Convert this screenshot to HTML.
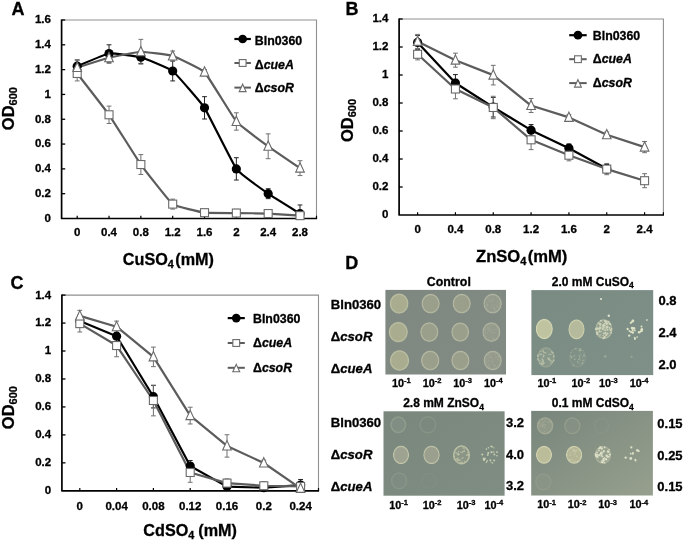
<!DOCTYPE html>
<html><head><meta charset="utf-8"><style>
html,body{margin:0;padding:0;background:#fff;width:685px;height:543px;overflow:hidden}
svg{display:block;font-family:"Liberation Sans", sans-serif}
text{font-family:"Liberation Sans", sans-serif;stroke:#000;stroke-width:0.3px}
</style></head><body>
<svg width="685" height="543" viewBox="0 0 685 543"><defs><filter id="bl" x="-5%" y="-5%" width="110%" height="110%"><feGaussianBlur stdDeviation="0.55"/></filter><linearGradient id="p1" x1="0" y1="0" x2="1" y2="1"><stop offset="0" stop-color="#7e8880"/><stop offset="1" stop-color="#838c84"/></linearGradient><radialGradient id="cg1"><stop offset="0" stop-color="#a9ac8f"/><stop offset="0.76" stop-color="#a9ac8f"/><stop offset="0.9" stop-color="#bbbfa2"/><stop offset="1" stop-color="#bbbfa2" stop-opacity="0.1"/></radialGradient><radialGradient id="cg2"><stop offset="0" stop-color="#9a9f8c"/><stop offset="0.76" stop-color="#9a9f8c"/><stop offset="0.9" stop-color="#b6baa2"/><stop offset="1" stop-color="#b6baa2" stop-opacity="0.1"/></radialGradient><radialGradient id="cg3"><stop offset="0" stop-color="#9a9f8c"/><stop offset="0.76" stop-color="#9a9f8c"/><stop offset="0.9" stop-color="#b6baa2"/><stop offset="1" stop-color="#b6baa2" stop-opacity="0.1"/></radialGradient><radialGradient id="cg4"><stop offset="0" stop-color="#959b8c"/><stop offset="0.76" stop-color="#959b8c"/><stop offset="0.9" stop-color="#b0b5a1"/><stop offset="1" stop-color="#b0b5a1" stop-opacity="0.1"/></radialGradient><radialGradient id="cg5"><stop offset="0" stop-color="#a9ac8f"/><stop offset="0.76" stop-color="#a9ac8f"/><stop offset="0.9" stop-color="#bbbfa2"/><stop offset="1" stop-color="#bbbfa2" stop-opacity="0.1"/></radialGradient><radialGradient id="cg6"><stop offset="0" stop-color="#9a9f8c"/><stop offset="0.76" stop-color="#9a9f8c"/><stop offset="0.9" stop-color="#b6baa2"/><stop offset="1" stop-color="#b6baa2" stop-opacity="0.1"/></radialGradient><radialGradient id="cg7"><stop offset="0" stop-color="#9a9f8c"/><stop offset="0.76" stop-color="#9a9f8c"/><stop offset="0.9" stop-color="#b6baa2"/><stop offset="1" stop-color="#b6baa2" stop-opacity="0.1"/></radialGradient><radialGradient id="cg8"><stop offset="0" stop-color="#959b8c"/><stop offset="0.76" stop-color="#959b8c"/><stop offset="0.9" stop-color="#b0b5a1"/><stop offset="1" stop-color="#b0b5a1" stop-opacity="0.1"/></radialGradient><radialGradient id="cg9"><stop offset="0" stop-color="#a9ac8f"/><stop offset="0.76" stop-color="#a9ac8f"/><stop offset="0.9" stop-color="#bbbfa2"/><stop offset="1" stop-color="#bbbfa2" stop-opacity="0.1"/></radialGradient><radialGradient id="cg10"><stop offset="0" stop-color="#9a9f8c"/><stop offset="0.76" stop-color="#9a9f8c"/><stop offset="0.9" stop-color="#b6baa2"/><stop offset="1" stop-color="#b6baa2" stop-opacity="0.1"/></radialGradient><radialGradient id="cg11"><stop offset="0" stop-color="#9a9f8c"/><stop offset="0.76" stop-color="#9a9f8c"/><stop offset="0.9" stop-color="#b6baa2"/><stop offset="1" stop-color="#b6baa2" stop-opacity="0.1"/></radialGradient><radialGradient id="cg12"><stop offset="0" stop-color="#959b8c"/><stop offset="0.76" stop-color="#959b8c"/><stop offset="0.9" stop-color="#b0b5a1"/><stop offset="1" stop-color="#b0b5a1" stop-opacity="0.1"/></radialGradient><linearGradient id="p2" x1="0" y1="0" x2="1" y2="1"><stop offset="0" stop-color="#798b82"/><stop offset="1" stop-color="#7e9088"/></linearGradient><radialGradient id="cg13"><stop offset="0" stop-color="#bfc3a0"/><stop offset="0.76" stop-color="#bfc3a0"/><stop offset="0.9" stop-color="#d3d6b2"/><stop offset="1" stop-color="#d3d6b2" stop-opacity="0.1"/></radialGradient><radialGradient id="cg14"><stop offset="0" stop-color="#b6ba9c"/><stop offset="0.76" stop-color="#b6ba9c"/><stop offset="0.9" stop-color="#ccd0ac"/><stop offset="1" stop-color="#ccd0ac" stop-opacity="0.1"/></radialGradient><linearGradient id="p3" x1="0" y1="0" x2="1" y2="1"><stop offset="0" stop-color="#79877c"/><stop offset="1" stop-color="#7f8d83"/></linearGradient><radialGradient id="cg15"><stop offset="0" stop-color="#9ea290"/><stop offset="0.76" stop-color="#9ea290"/><stop offset="0.9" stop-color="#c4c7aa"/><stop offset="1" stop-color="#c4c7aa" stop-opacity="0.1"/></radialGradient><radialGradient id="cg16"><stop offset="0" stop-color="#9b9f8e"/><stop offset="0.76" stop-color="#9b9f8e"/><stop offset="0.9" stop-color="#c0c3a8"/><stop offset="1" stop-color="#c0c3a8" stop-opacity="0.1"/></radialGradient><linearGradient id="p4" x1="0" y1="0" x2="1" y2="1"><stop offset="0" stop-color="#77857b"/><stop offset="1" stop-color="#97a08e"/></linearGradient><radialGradient id="cg17"><stop offset="0" stop-color="#bbbc9a"/><stop offset="0.76" stop-color="#bbbc9a"/><stop offset="0.9" stop-color="#d4d4b0"/><stop offset="1" stop-color="#d4d4b0" stop-opacity="0.1"/></radialGradient><radialGradient id="cg18"><stop offset="0" stop-color="#b4b696"/><stop offset="0.76" stop-color="#b4b696"/><stop offset="0.9" stop-color="#cfd0ae"/><stop offset="1" stop-color="#cfd0ae" stop-opacity="0.1"/></radialGradient><filter id="soft" x="0" y="0" width="100%" height="100%"><feGaussianBlur stdDeviation="0.35"/></filter></defs><rect width="685" height="543" fill="#fff"/><g filter="url(#soft)"><rect width="685" height="543" fill="#fff"/><path d="M61.6,20 L316.5,20 L316.5,218.5" fill="none" stroke="#909090" stroke-width="1.1"/>
<text transform="translate(50.90,221.90) scale(1.0,1)" font-size="11.5" text-anchor="end" font-weight="bold" font-style="normal" fill="#000">0</text>
<line x1="61.6" y1="193.69" x2="65.2" y2="193.69" stroke="#000" stroke-width="1.3"/>
<text transform="translate(50.90,197.09) scale(1.0,1)" font-size="11.5" text-anchor="end" font-weight="bold" font-style="normal" fill="#000">0.2</text>
<line x1="61.6" y1="168.88" x2="65.2" y2="168.88" stroke="#000" stroke-width="1.3"/>
<text transform="translate(50.90,172.28) scale(1.0,1)" font-size="11.5" text-anchor="end" font-weight="bold" font-style="normal" fill="#000">0.4</text>
<line x1="61.6" y1="144.06" x2="65.2" y2="144.06" stroke="#000" stroke-width="1.3"/>
<text transform="translate(50.90,147.46) scale(1.0,1)" font-size="11.5" text-anchor="end" font-weight="bold" font-style="normal" fill="#000">0.6</text>
<line x1="61.6" y1="119.25" x2="65.2" y2="119.25" stroke="#000" stroke-width="1.3"/>
<text transform="translate(50.90,122.65) scale(1.0,1)" font-size="11.5" text-anchor="end" font-weight="bold" font-style="normal" fill="#000">0.8</text>
<line x1="61.6" y1="94.44" x2="65.2" y2="94.44" stroke="#000" stroke-width="1.3"/>
<text transform="translate(50.90,97.84) scale(1.0,1)" font-size="11.5" text-anchor="end" font-weight="bold" font-style="normal" fill="#000">1</text>
<line x1="61.6" y1="69.62" x2="65.2" y2="69.62" stroke="#000" stroke-width="1.3"/>
<text transform="translate(50.90,73.02) scale(1.0,1)" font-size="11.5" text-anchor="end" font-weight="bold" font-style="normal" fill="#000">1.2</text>
<line x1="61.6" y1="44.81" x2="65.2" y2="44.81" stroke="#000" stroke-width="1.3"/>
<text transform="translate(50.90,48.21) scale(1.0,1)" font-size="11.5" text-anchor="end" font-weight="bold" font-style="normal" fill="#000">1.4</text>
<line x1="61.6" y1="20.00" x2="65.2" y2="20.00" stroke="#000" stroke-width="1.3"/>
<text transform="translate(50.90,23.40) scale(1.0,1)" font-size="11.5" text-anchor="end" font-weight="bold" font-style="normal" fill="#000">1.6</text>
<line x1="77.20" y1="215.7" x2="77.20" y2="218.5" stroke="#000" stroke-width="1.2"/>
<text transform="translate(77.20,236.40) scale(1.0,1)" font-size="11.5" text-anchor="middle" font-weight="bold" font-style="normal" fill="#000">0</text>
<line x1="109.03" y1="215.7" x2="109.03" y2="218.5" stroke="#000" stroke-width="1.2"/>
<text transform="translate(109.03,236.40) scale(1.0,1)" font-size="11.5" text-anchor="middle" font-weight="bold" font-style="normal" fill="#000">0.4</text>
<line x1="140.86" y1="215.7" x2="140.86" y2="218.5" stroke="#000" stroke-width="1.2"/>
<text transform="translate(140.86,236.40) scale(1.0,1)" font-size="11.5" text-anchor="middle" font-weight="bold" font-style="normal" fill="#000">0.8</text>
<line x1="172.69" y1="215.7" x2="172.69" y2="218.5" stroke="#000" stroke-width="1.2"/>
<text transform="translate(172.69,236.40) scale(1.0,1)" font-size="11.5" text-anchor="middle" font-weight="bold" font-style="normal" fill="#000">1.2</text>
<line x1="204.52" y1="215.7" x2="204.52" y2="218.5" stroke="#000" stroke-width="1.2"/>
<text transform="translate(204.52,236.40) scale(1.0,1)" font-size="11.5" text-anchor="middle" font-weight="bold" font-style="normal" fill="#000">1.6</text>
<line x1="236.35" y1="215.7" x2="236.35" y2="218.5" stroke="#000" stroke-width="1.2"/>
<text transform="translate(236.35,236.40) scale(1.0,1)" font-size="11.5" text-anchor="middle" font-weight="bold" font-style="normal" fill="#000">2</text>
<line x1="268.18" y1="215.7" x2="268.18" y2="218.5" stroke="#000" stroke-width="1.2"/>
<text transform="translate(268.18,236.40) scale(1.0,1)" font-size="11.5" text-anchor="middle" font-weight="bold" font-style="normal" fill="#000">2.4</text>
<line x1="300.01" y1="215.7" x2="300.01" y2="218.5" stroke="#000" stroke-width="1.2"/>
<text transform="translate(300.01,236.40) scale(1.0,1)" font-size="11.5" text-anchor="middle" font-weight="bold" font-style="normal" fill="#000">2.8</text>
<line x1="316.50" y1="215.7" x2="316.50" y2="218.5" stroke="#000" stroke-width="1.2"/>
<path d="M61.6,19.4 L61.6,218.5 L317.1,218.5" fill="none" stroke="#000" stroke-width="1.7" stroke-linejoin="round"/>
<path d="M77.20,59.95 L77.20,72.35 M74.80,59.95 L79.60,59.95 M74.80,72.35 L79.60,72.35" stroke="#222" stroke-width="1" fill="none"/>
<path d="M109.03,44.81 L109.03,62.18 M106.63,44.81 L111.43,44.81 M106.63,62.18 L111.43,62.18" stroke="#222" stroke-width="1" fill="none"/>
<path d="M140.86,51.02 L140.86,63.42 M138.46,51.02 L143.26,51.02 M138.46,63.42 L143.26,63.42" stroke="#222" stroke-width="1" fill="none"/>
<path d="M172.69,61.06 L172.69,80.91 M170.29,61.06 L175.09,61.06 M170.29,80.91 L175.09,80.91" stroke="#222" stroke-width="1" fill="none"/>
<path d="M204.52,96.67 L204.52,119.00 M202.12,96.67 L206.92,96.67 M202.12,119.00 L206.92,119.00" stroke="#222" stroke-width="1" fill="none"/>
<path d="M236.35,157.71 L236.35,180.04 M233.95,157.71 L238.75,157.71 M233.95,180.04 L238.75,180.04" stroke="#222" stroke-width="1" fill="none"/>
<path d="M268.18,188.72 L268.18,198.65 M265.78,188.72 L270.58,188.72 M265.78,198.65 L270.58,198.65" stroke="#222" stroke-width="1" fill="none"/>
<path d="M300.01,204.98 L300.01,218.50 M297.61,204.98 L302.41,204.98 M297.61,218.50 L302.41,218.50" stroke="#222" stroke-width="1" fill="none"/>
<path d="M77.20,66.03 L77.20,80.91 M74.80,66.03 L79.60,66.03 M74.80,80.91 L79.60,80.91" stroke="#707070" stroke-width="1" fill="none"/>
<path d="M109.03,106.10 L109.03,123.47 M106.63,106.10 L111.43,106.10 M106.63,123.47 L111.43,123.47" stroke="#707070" stroke-width="1" fill="none"/>
<path d="M140.86,154.61 L140.86,174.46 M138.46,154.61 L143.26,154.61 M138.46,174.46 L143.26,174.46" stroke="#707070" stroke-width="1" fill="none"/>
<path d="M172.69,199.15 L172.69,209.07 M170.29,199.15 L175.09,199.15 M170.29,209.07 L175.09,209.07" stroke="#707070" stroke-width="1" fill="none"/>
<path d="M204.52,210.19 L204.52,215.15 M202.12,210.19 L206.92,210.19 M202.12,215.15 L206.92,215.15" stroke="#707070" stroke-width="1" fill="none"/>
<path d="M236.35,209.32 L236.35,216.76 M233.95,209.32 L238.75,209.32 M233.95,216.76 L238.75,216.76" stroke="#707070" stroke-width="1" fill="none"/>
<path d="M268.18,211.68 L268.18,215.40 M265.78,211.68 L270.58,211.68 M265.78,215.40 L270.58,215.40" stroke="#707070" stroke-width="1" fill="none"/>
<path d="M300.01,214.41 L300.01,216.89 M297.61,214.41 L302.41,214.41 M297.61,216.89 L302.41,216.89" stroke="#707070" stroke-width="1" fill="none"/>
<path d="M77.20,60.07 L77.20,74.96 M74.80,60.07 L79.60,60.07 M74.80,74.96 L79.60,74.96" stroke="#707070" stroke-width="1" fill="none"/>
<path d="M109.03,52.13 L109.03,63.30 M106.63,52.13 L111.43,52.13 M106.63,63.30 L111.43,63.30" stroke="#707070" stroke-width="1" fill="none"/>
<path d="M140.86,39.35 L140.86,64.17 M138.46,39.35 L143.26,39.35 M138.46,64.17 L143.26,64.17" stroke="#707070" stroke-width="1" fill="none"/>
<path d="M172.69,51.02 L172.69,60.94 M170.29,51.02 L175.09,51.02 M170.29,60.94 L175.09,60.94" stroke="#707070" stroke-width="1" fill="none"/>
<path d="M204.52,69.62 L204.52,74.59 M202.12,69.62 L206.92,69.62 M202.12,74.59 L206.92,74.59" stroke="#707070" stroke-width="1" fill="none"/>
<path d="M236.35,112.80 L236.35,130.17 M233.95,112.80 L238.75,112.80 M233.95,130.17 L238.75,130.17" stroke="#707070" stroke-width="1" fill="none"/>
<path d="M268.18,133.89 L268.18,158.70 M265.78,133.89 L270.58,133.89 M265.78,158.70 L270.58,158.70" stroke="#707070" stroke-width="1" fill="none"/>
<path d="M300.01,160.69 L300.01,175.57 M297.61,160.69 L302.41,160.69 M297.61,175.57 L302.41,175.57" stroke="#707070" stroke-width="1" fill="none"/>
<path d="M77.20,66.15 C78.79,65.52 105.85,53.94 109.03,53.50 C112.21,53.05 137.68,56.34 140.86,57.22 C144.04,58.09 169.51,68.46 172.69,70.99 C175.87,73.52 201.34,102.94 204.52,107.84 C207.70,112.73 233.17,164.58 236.35,168.88 C239.53,173.17 265.00,191.45 268.18,193.69 C271.36,195.93 298.42,212.66 300.01,213.66" fill="none" stroke="#000" stroke-width="2.2" stroke-linejoin="round"/>
<path d="M77.20,73.47 C78.79,75.54 105.85,110.23 109.03,114.78 C112.21,119.34 137.68,160.07 140.86,164.53 C144.04,169.00 169.51,201.70 172.69,204.11 C175.87,206.52 201.34,212.22 204.52,212.67 C207.70,213.12 233.17,213.00 236.35,213.04 C239.53,213.08 265.00,213.41 268.18,213.54 C271.36,213.67 298.42,215.54 300.01,215.65" fill="none" stroke="#5c5c5c" stroke-width="2.2" stroke-linejoin="round"/>
<path d="M77.20,67.52 C78.79,67.03 105.85,58.50 109.03,57.72 C112.21,56.93 137.68,51.85 140.86,51.76 C144.04,51.67 169.51,54.96 172.69,55.98 C175.87,57.00 201.34,68.83 204.52,72.11 C207.70,75.38 233.17,117.77 236.35,121.48 C239.53,125.19 265.00,143.96 268.18,146.30 C271.36,148.63 298.42,167.04 300.01,168.13" fill="none" stroke="#5c5c5c" stroke-width="2.2" stroke-linejoin="round"/>
<circle cx="77.20" cy="66.15" r="4.60" fill="#000"/>
<circle cx="109.03" cy="53.50" r="4.60" fill="#000"/>
<circle cx="140.86" cy="57.22" r="4.60" fill="#000"/>
<circle cx="172.69" cy="70.99" r="4.60" fill="#000"/>
<circle cx="204.52" cy="107.84" r="4.60" fill="#000"/>
<circle cx="236.35" cy="168.88" r="4.60" fill="#000"/>
<circle cx="268.18" cy="193.69" r="4.60" fill="#000"/>
<circle cx="300.01" cy="213.66" r="4.60" fill="#000"/>
<rect x="73.20" y="69.47" width="8.00" height="8.00" fill="#fff" stroke="#6a6a6a" stroke-width="1.1"/>
<rect x="105.03" y="110.78" width="8.00" height="8.00" fill="#fff" stroke="#6a6a6a" stroke-width="1.1"/>
<rect x="136.86" y="160.53" width="8.00" height="8.00" fill="#fff" stroke="#6a6a6a" stroke-width="1.1"/>
<rect x="168.69" y="200.11" width="8.00" height="8.00" fill="#fff" stroke="#6a6a6a" stroke-width="1.1"/>
<rect x="200.52" y="208.67" width="8.00" height="8.00" fill="#fff" stroke="#6a6a6a" stroke-width="1.1"/>
<rect x="232.35" y="209.04" width="8.00" height="8.00" fill="#fff" stroke="#6a6a6a" stroke-width="1.1"/>
<rect x="264.18" y="209.54" width="8.00" height="8.00" fill="#fff" stroke="#6a6a6a" stroke-width="1.1"/>
<rect x="296.01" y="211.65" width="8.00" height="8.00" fill="#fff" stroke="#6a6a6a" stroke-width="1.1"/>
<path d="M77.20,62.22 L81.50,71.52 L72.90,71.52 Z" fill="#fff" stroke="#6a6a6a" stroke-width="1.1" stroke-linejoin="miter"/>
<path d="M109.03,52.42 L113.33,61.72 L104.73,61.72 Z" fill="#fff" stroke="#6a6a6a" stroke-width="1.1" stroke-linejoin="miter"/>
<path d="M140.86,46.46 L145.16,55.76 L136.56,55.76 Z" fill="#fff" stroke="#6a6a6a" stroke-width="1.1" stroke-linejoin="miter"/>
<path d="M172.69,50.68 L176.99,59.98 L168.39,59.98 Z" fill="#fff" stroke="#6a6a6a" stroke-width="1.1" stroke-linejoin="miter"/>
<path d="M204.52,66.81 L208.82,76.11 L200.22,76.11 Z" fill="#fff" stroke="#6a6a6a" stroke-width="1.1" stroke-linejoin="miter"/>
<path d="M236.35,116.18 L240.65,125.48 L232.05,125.48 Z" fill="#fff" stroke="#6a6a6a" stroke-width="1.1" stroke-linejoin="miter"/>
<path d="M268.18,141.00 L272.48,150.30 L263.88,150.30 Z" fill="#fff" stroke="#6a6a6a" stroke-width="1.1" stroke-linejoin="miter"/>
<path d="M300.01,162.83 L304.31,172.13 L295.71,172.13 Z" fill="#fff" stroke="#6a6a6a" stroke-width="1.1" stroke-linejoin="miter"/>
<line x1="234.4" y1="39" x2="250.9" y2="39" stroke="#000" stroke-width="2.2"/>
<circle cx="242.65" cy="39.00" r="4.37" fill="#000"/>
<text transform="translate(254.80,44.90) scale(1.03,1)" font-size="12" text-anchor="start" font-weight="bold" font-style="normal" fill="#000">Bln0360</text>
<line x1="234.4" y1="63" x2="250.9" y2="63" stroke="#5c5c5c" stroke-width="2.0"/>
<rect x="239.25" y="59.60" width="6.80" height="6.80" fill="#fff" stroke="#6a6a6a" stroke-width="1.1"/>
<text transform="translate(254.80,68.90) scale(1.03,1)" font-size="12" text-anchor="start" font-weight="bold" font-style="normal" fill="#000">Δ<tspan font-style="italic">cueA</tspan></text>
<line x1="234.4" y1="87.6" x2="250.9" y2="87.6" stroke="#5c5c5c" stroke-width="2.0"/>
<path d="M242.65,84.16 L246.09,91.60 L239.21,91.60 Z" fill="#fff" stroke="#6a6a6a" stroke-width="1.1" stroke-linejoin="miter"/>
<text transform="translate(254.80,92.40) scale(1.03,1)" font-size="12" text-anchor="start" font-weight="bold" font-style="normal" fill="#000">Δ<tspan font-style="italic">csoR</tspan></text>
<text transform="translate(122.8,264.8) scale(1.0,1)" font-size="16.2" font-weight="bold">CuSO<tspan font-size="10.8" dy="3">4</tspan><tspan dy="-3" dx="1.5">(mM)</tspan></text>
<text transform="translate(14.0,130.2) rotate(-90)" font-size="16.5" font-weight="bold">OD<tspan font-size="11" dy="3.2">600</tspan></text>
<text transform="translate(11.60,15.30) scale(1.0,1)" font-size="18" text-anchor="start" font-weight="bold" font-style="normal" fill="#000">A</text>
<path d="M399.1,19.0 L663.4,19.0 L663.4,215.0" fill="none" stroke="#909090" stroke-width="1.1"/>
<text transform="translate(388.40,218.40) scale(1.0,1)" font-size="11.5" text-anchor="end" font-weight="bold" font-style="normal" fill="#000">0</text>
<line x1="399.1" y1="187.00" x2="402.70000000000005" y2="187.00" stroke="#000" stroke-width="1.3"/>
<text transform="translate(388.40,190.40) scale(1.0,1)" font-size="11.5" text-anchor="end" font-weight="bold" font-style="normal" fill="#000">0.2</text>
<line x1="399.1" y1="159.00" x2="402.70000000000005" y2="159.00" stroke="#000" stroke-width="1.3"/>
<text transform="translate(388.40,162.40) scale(1.0,1)" font-size="11.5" text-anchor="end" font-weight="bold" font-style="normal" fill="#000">0.4</text>
<line x1="399.1" y1="131.00" x2="402.70000000000005" y2="131.00" stroke="#000" stroke-width="1.3"/>
<text transform="translate(388.40,134.40) scale(1.0,1)" font-size="11.5" text-anchor="end" font-weight="bold" font-style="normal" fill="#000">0.6</text>
<line x1="399.1" y1="103.00" x2="402.70000000000005" y2="103.00" stroke="#000" stroke-width="1.3"/>
<text transform="translate(388.40,106.40) scale(1.0,1)" font-size="11.5" text-anchor="end" font-weight="bold" font-style="normal" fill="#000">0.8</text>
<line x1="399.1" y1="75.00" x2="402.70000000000005" y2="75.00" stroke="#000" stroke-width="1.3"/>
<text transform="translate(388.40,78.40) scale(1.0,1)" font-size="11.5" text-anchor="end" font-weight="bold" font-style="normal" fill="#000">1</text>
<line x1="399.1" y1="47.00" x2="402.70000000000005" y2="47.00" stroke="#000" stroke-width="1.3"/>
<text transform="translate(388.40,50.40) scale(1.0,1)" font-size="11.5" text-anchor="end" font-weight="bold" font-style="normal" fill="#000">1.2</text>
<line x1="399.1" y1="19.00" x2="402.70000000000005" y2="19.00" stroke="#000" stroke-width="1.3"/>
<text transform="translate(388.40,22.40) scale(1.0,1)" font-size="11.5" text-anchor="end" font-weight="bold" font-style="normal" fill="#000">1.4</text>
<line x1="417.60" y1="212.2" x2="417.60" y2="215.0" stroke="#000" stroke-width="1.2"/>
<text transform="translate(417.60,233.20) scale(1.0,1)" font-size="11.5" text-anchor="middle" font-weight="bold" font-style="normal" fill="#000">0</text>
<line x1="455.43" y1="212.2" x2="455.43" y2="215.0" stroke="#000" stroke-width="1.2"/>
<text transform="translate(455.43,233.20) scale(1.0,1)" font-size="11.5" text-anchor="middle" font-weight="bold" font-style="normal" fill="#000">0.4</text>
<line x1="493.26" y1="212.2" x2="493.26" y2="215.0" stroke="#000" stroke-width="1.2"/>
<text transform="translate(493.26,233.20) scale(1.0,1)" font-size="11.5" text-anchor="middle" font-weight="bold" font-style="normal" fill="#000">0.8</text>
<line x1="531.09" y1="212.2" x2="531.09" y2="215.0" stroke="#000" stroke-width="1.2"/>
<text transform="translate(531.09,233.20) scale(1.0,1)" font-size="11.5" text-anchor="middle" font-weight="bold" font-style="normal" fill="#000">1.2</text>
<line x1="568.92" y1="212.2" x2="568.92" y2="215.0" stroke="#000" stroke-width="1.2"/>
<text transform="translate(568.92,233.20) scale(1.0,1)" font-size="11.5" text-anchor="middle" font-weight="bold" font-style="normal" fill="#000">1.6</text>
<line x1="606.75" y1="212.2" x2="606.75" y2="215.0" stroke="#000" stroke-width="1.2"/>
<text transform="translate(606.75,233.20) scale(1.0,1)" font-size="11.5" text-anchor="middle" font-weight="bold" font-style="normal" fill="#000">2</text>
<line x1="644.58" y1="212.2" x2="644.58" y2="215.0" stroke="#000" stroke-width="1.2"/>
<text transform="translate(644.58,233.20) scale(1.0,1)" font-size="11.5" text-anchor="middle" font-weight="bold" font-style="normal" fill="#000">2.4</text>
<line x1="663.40" y1="212.2" x2="663.40" y2="215.0" stroke="#000" stroke-width="1.2"/>
<path d="M399.1,18.4 L399.1,215.0 L664.0,215.0" fill="none" stroke="#000" stroke-width="1.7" stroke-linejoin="round"/>
<path d="M417.60,35.38 L417.60,49.38 M415.20,35.38 L420.00,35.38 M415.20,49.38 L420.00,49.38" stroke="#222" stroke-width="1" fill="none"/>
<path d="M455.43,74.58 L455.43,91.38 M453.03,74.58 L457.83,74.58 M453.03,91.38 L457.83,91.38" stroke="#222" stroke-width="1" fill="none"/>
<path d="M493.26,97.40 L493.26,117.00 M490.86,97.40 L495.66,97.40 M490.86,117.00 L495.66,117.00" stroke="#222" stroke-width="1" fill="none"/>
<path d="M531.09,124.56 L531.09,135.76 M528.69,124.56 L533.49,124.56 M528.69,135.76 L533.49,135.76" stroke="#222" stroke-width="1" fill="none"/>
<path d="M568.92,144.02 L568.92,152.42 M566.52,144.02 L571.32,144.02 M566.52,152.42 L571.32,152.42" stroke="#222" stroke-width="1" fill="none"/>
<path d="M606.75,164.60 L606.75,173.00 M604.35,164.60 L609.15,164.60 M604.35,173.00 L609.15,173.00" stroke="#222" stroke-width="1" fill="none"/>
<path d="M417.60,48.68 L417.60,59.88 M415.20,48.68 L420.00,48.68 M415.20,59.88 L420.00,59.88" stroke="#707070" stroke-width="1" fill="none"/>
<path d="M455.43,79.20 L455.43,98.80 M453.03,79.20 L457.83,79.20 M453.03,98.80 L457.83,98.80" stroke="#707070" stroke-width="1" fill="none"/>
<path d="M493.26,96.28 L493.26,118.68 M490.86,96.28 L495.66,96.28 M490.86,118.68 L495.66,118.68" stroke="#707070" stroke-width="1" fill="none"/>
<path d="M531.09,130.02 L531.09,149.62 M528.69,130.02 L533.49,130.02 M528.69,149.62 L533.49,149.62" stroke="#707070" stroke-width="1" fill="none"/>
<path d="M568.92,149.62 L568.92,160.82 M566.52,149.62 L571.32,149.62 M566.52,160.82 L571.32,160.82" stroke="#707070" stroke-width="1" fill="none"/>
<path d="M606.75,163.48 L606.75,174.68 M604.35,163.48 L609.15,163.48 M604.35,174.68 L609.15,174.68" stroke="#707070" stroke-width="1" fill="none"/>
<path d="M644.58,173.70 L644.58,187.70 M642.18,173.70 L646.98,173.70 M642.18,187.70 L646.98,187.70" stroke="#707070" stroke-width="1" fill="none"/>
<path d="M417.60,34.40 L417.60,48.40 M415.20,34.40 L420.00,34.40 M415.20,48.40 L420.00,48.40" stroke="#707070" stroke-width="1" fill="none"/>
<path d="M455.43,53.16 L455.43,67.16 M453.03,53.16 L457.83,53.16 M453.03,67.16 L457.83,67.16" stroke="#707070" stroke-width="1" fill="none"/>
<path d="M493.26,65.34 L493.26,84.94 M490.86,65.34 L495.66,65.34 M490.86,84.94 L495.66,84.94" stroke="#707070" stroke-width="1" fill="none"/>
<path d="M531.09,98.52 L531.09,112.52 M528.69,98.52 L533.49,98.52 M528.69,112.52 L533.49,112.52" stroke="#707070" stroke-width="1" fill="none"/>
<path d="M568.92,114.62 L568.92,120.22 M566.52,114.62 L571.32,114.62 M566.52,120.22 L571.32,120.22" stroke="#707070" stroke-width="1" fill="none"/>
<path d="M606.75,131.98 L606.75,137.58 M604.35,131.98 L609.15,131.98 M604.35,137.58 L609.15,137.58" stroke="#707070" stroke-width="1" fill="none"/>
<path d="M644.58,141.50 L644.58,152.70 M642.18,141.50 L646.98,141.50 M642.18,152.70 L646.98,152.70" stroke="#707070" stroke-width="1" fill="none"/>
<path d="M417.60,42.38 L455.43,82.98 L493.26,107.20 L531.09,130.16 L568.92,148.22 L606.75,168.80" fill="none" stroke="#000" stroke-width="2.2" stroke-linejoin="round"/>
<path d="M417.60,54.28 L455.43,89.00 L493.26,107.48 L531.09,139.82 L568.92,155.22 L606.75,169.08 L644.58,180.70" fill="none" stroke="#5c5c5c" stroke-width="2.2" stroke-linejoin="round"/>
<path d="M417.60,41.40 L455.43,60.16 L493.26,75.14 L531.09,105.52 L568.92,117.42 L606.75,134.78 L644.58,147.10" fill="none" stroke="#5c5c5c" stroke-width="2.2" stroke-linejoin="round"/>
<circle cx="417.60" cy="42.38" r="4.60" fill="#000"/>
<circle cx="455.43" cy="82.98" r="4.60" fill="#000"/>
<circle cx="493.26" cy="107.20" r="4.60" fill="#000"/>
<circle cx="531.09" cy="130.16" r="4.60" fill="#000"/>
<circle cx="568.92" cy="148.22" r="4.60" fill="#000"/>
<circle cx="606.75" cy="168.80" r="4.60" fill="#000"/>
<rect x="413.60" y="50.28" width="8.00" height="8.00" fill="#fff" stroke="#6a6a6a" stroke-width="1.1"/>
<rect x="451.43" y="85.00" width="8.00" height="8.00" fill="#fff" stroke="#6a6a6a" stroke-width="1.1"/>
<rect x="489.26" y="103.48" width="8.00" height="8.00" fill="#fff" stroke="#6a6a6a" stroke-width="1.1"/>
<rect x="527.09" y="135.82" width="8.00" height="8.00" fill="#fff" stroke="#6a6a6a" stroke-width="1.1"/>
<rect x="564.92" y="151.22" width="8.00" height="8.00" fill="#fff" stroke="#6a6a6a" stroke-width="1.1"/>
<rect x="602.75" y="165.08" width="8.00" height="8.00" fill="#fff" stroke="#6a6a6a" stroke-width="1.1"/>
<rect x="640.58" y="176.70" width="8.00" height="8.00" fill="#fff" stroke="#6a6a6a" stroke-width="1.1"/>
<path d="M417.60,36.10 L421.90,45.40 L413.30,45.40 Z" fill="#fff" stroke="#6a6a6a" stroke-width="1.1" stroke-linejoin="miter"/>
<path d="M455.43,54.86 L459.73,64.16 L451.13,64.16 Z" fill="#fff" stroke="#6a6a6a" stroke-width="1.1" stroke-linejoin="miter"/>
<path d="M493.26,69.84 L497.56,79.14 L488.96,79.14 Z" fill="#fff" stroke="#6a6a6a" stroke-width="1.1" stroke-linejoin="miter"/>
<path d="M531.09,100.22 L535.39,109.52 L526.79,109.52 Z" fill="#fff" stroke="#6a6a6a" stroke-width="1.1" stroke-linejoin="miter"/>
<path d="M568.92,112.12 L573.22,121.42 L564.62,121.42 Z" fill="#fff" stroke="#6a6a6a" stroke-width="1.1" stroke-linejoin="miter"/>
<path d="M606.75,129.48 L611.05,138.78 L602.45,138.78 Z" fill="#fff" stroke="#6a6a6a" stroke-width="1.1" stroke-linejoin="miter"/>
<path d="M644.58,141.80 L648.88,151.10 L640.28,151.10 Z" fill="#fff" stroke="#6a6a6a" stroke-width="1.1" stroke-linejoin="miter"/>
<line x1="569.2" y1="35.2" x2="586.7" y2="35.2" stroke="#000" stroke-width="2.2"/>
<circle cx="577.95" cy="35.20" r="4.37" fill="#000"/>
<text transform="translate(592.80,39.60) scale(1.03,1)" font-size="12" text-anchor="start" font-weight="bold" font-style="normal" fill="#000">Bln0360</text>
<line x1="569.2" y1="59.2" x2="586.7" y2="59.2" stroke="#5c5c5c" stroke-width="2.0"/>
<rect x="574.55" y="55.80" width="6.80" height="6.80" fill="#fff" stroke="#6a6a6a" stroke-width="1.1"/>
<text transform="translate(592.80,63.40) scale(1.03,1)" font-size="12" text-anchor="start" font-weight="bold" font-style="normal" fill="#000">Δ<tspan font-style="italic">cueA</tspan></text>
<line x1="569.2" y1="83.1" x2="586.7" y2="83.1" stroke="#5c5c5c" stroke-width="2.0"/>
<path d="M577.95,79.66 L581.39,87.10 L574.51,87.10 Z" fill="#fff" stroke="#6a6a6a" stroke-width="1.1" stroke-linejoin="miter"/>
<text transform="translate(592.80,87.10) scale(1.03,1)" font-size="12" text-anchor="start" font-weight="bold" font-style="normal" fill="#000">Δ<tspan font-style="italic">csoR</tspan></text>
<text transform="translate(476.0,262.0) scale(1.025,1)" font-size="16.2" font-weight="bold">ZnSO<tspan font-size="10.8" dy="3">4</tspan><tspan dy="-3" dx="1.2">(mM)</tspan></text>
<text transform="translate(353.2,142.0) rotate(-90)" font-size="16.5" font-weight="bold">OD<tspan font-size="11" dy="3.2">600</tspan></text>
<text transform="translate(345.40,15.30) scale(1.0,1)" font-size="18" text-anchor="start" font-weight="bold" font-style="normal" fill="#000">B</text>
<path d="M61.9,295.1 L318.5,295.1 L318.5,490.8" fill="none" stroke="#909090" stroke-width="1.1"/>
<text transform="translate(51.20,494.20) scale(1.0,1)" font-size="11.5" text-anchor="end" font-weight="bold" font-style="normal" fill="#000">0</text>
<line x1="61.9" y1="462.84" x2="65.5" y2="462.84" stroke="#000" stroke-width="1.3"/>
<text transform="translate(51.20,466.24) scale(1.0,1)" font-size="11.5" text-anchor="end" font-weight="bold" font-style="normal" fill="#000">0.2</text>
<line x1="61.9" y1="434.89" x2="65.5" y2="434.89" stroke="#000" stroke-width="1.3"/>
<text transform="translate(51.20,438.29) scale(1.0,1)" font-size="11.5" text-anchor="end" font-weight="bold" font-style="normal" fill="#000">0.4</text>
<line x1="61.9" y1="406.93" x2="65.5" y2="406.93" stroke="#000" stroke-width="1.3"/>
<text transform="translate(51.20,410.33) scale(1.0,1)" font-size="11.5" text-anchor="end" font-weight="bold" font-style="normal" fill="#000">0.6</text>
<line x1="61.9" y1="378.97" x2="65.5" y2="378.97" stroke="#000" stroke-width="1.3"/>
<text transform="translate(51.20,382.37) scale(1.0,1)" font-size="11.5" text-anchor="end" font-weight="bold" font-style="normal" fill="#000">0.8</text>
<line x1="61.9" y1="351.01" x2="65.5" y2="351.01" stroke="#000" stroke-width="1.3"/>
<text transform="translate(51.20,354.41) scale(1.0,1)" font-size="11.5" text-anchor="end" font-weight="bold" font-style="normal" fill="#000">1</text>
<line x1="61.9" y1="323.06" x2="65.5" y2="323.06" stroke="#000" stroke-width="1.3"/>
<text transform="translate(51.20,326.46) scale(1.0,1)" font-size="11.5" text-anchor="end" font-weight="bold" font-style="normal" fill="#000">1.2</text>
<line x1="61.9" y1="295.10" x2="65.5" y2="295.10" stroke="#000" stroke-width="1.3"/>
<text transform="translate(51.20,298.50) scale(1.0,1)" font-size="11.5" text-anchor="end" font-weight="bold" font-style="normal" fill="#000">1.4</text>
<line x1="79.80" y1="488.0" x2="79.80" y2="490.8" stroke="#000" stroke-width="1.2"/>
<text transform="translate(79.80,509.60) scale(1.0,1)" font-size="11.5" text-anchor="middle" font-weight="bold" font-style="normal" fill="#000">0</text>
<line x1="116.60" y1="488.0" x2="116.60" y2="490.8" stroke="#000" stroke-width="1.2"/>
<text transform="translate(116.60,509.60) scale(1.0,1)" font-size="11.5" text-anchor="middle" font-weight="bold" font-style="normal" fill="#000">0.04</text>
<line x1="153.40" y1="488.0" x2="153.40" y2="490.8" stroke="#000" stroke-width="1.2"/>
<text transform="translate(153.40,509.60) scale(1.0,1)" font-size="11.5" text-anchor="middle" font-weight="bold" font-style="normal" fill="#000">0.08</text>
<line x1="190.20" y1="488.0" x2="190.20" y2="490.8" stroke="#000" stroke-width="1.2"/>
<text transform="translate(190.20,509.60) scale(1.0,1)" font-size="11.5" text-anchor="middle" font-weight="bold" font-style="normal" fill="#000">0.12</text>
<line x1="227.00" y1="488.0" x2="227.00" y2="490.8" stroke="#000" stroke-width="1.2"/>
<text transform="translate(227.00,509.60) scale(1.0,1)" font-size="11.5" text-anchor="middle" font-weight="bold" font-style="normal" fill="#000">0.16</text>
<line x1="263.80" y1="488.0" x2="263.80" y2="490.8" stroke="#000" stroke-width="1.2"/>
<text transform="translate(263.80,509.60) scale(1.0,1)" font-size="11.5" text-anchor="middle" font-weight="bold" font-style="normal" fill="#000">0.2</text>
<line x1="300.60" y1="488.0" x2="300.60" y2="490.8" stroke="#000" stroke-width="1.2"/>
<text transform="translate(300.60,509.60) scale(1.0,1)" font-size="11.5" text-anchor="middle" font-weight="bold" font-style="normal" fill="#000">0.24</text>
<line x1="318.50" y1="488.0" x2="318.50" y2="490.8" stroke="#000" stroke-width="1.2"/>
<path d="M61.9,294.5 L61.9,490.8 L319.1,490.8" fill="none" stroke="#000" stroke-width="1.7" stroke-linejoin="round"/>
<path d="M79.80,315.37 L79.80,326.55 M77.40,315.37 L82.20,315.37 M77.40,326.55 L82.20,326.55" stroke="#222" stroke-width="1" fill="none"/>
<path d="M116.60,329.21 L116.60,343.19 M114.20,329.21 L119.00,329.21 M114.20,343.19 L119.00,343.19" stroke="#222" stroke-width="1" fill="none"/>
<path d="M153.40,385.54 L153.40,407.91 M151.00,385.54 L155.80,385.54 M151.00,407.91 L155.80,407.91" stroke="#222" stroke-width="1" fill="none"/>
<path d="M190.20,460.47 L190.20,471.65 M187.80,460.47 L192.60,460.47 M187.80,471.65 L192.60,471.65" stroke="#222" stroke-width="1" fill="none"/>
<path d="M227.00,483.81 L227.00,489.40 M224.60,483.81 L229.40,483.81 M224.60,489.40 L229.40,489.40" stroke="#222" stroke-width="1" fill="none"/>
<path d="M263.80,484.93 L263.80,490.52 M261.40,484.93 L266.20,484.93 M261.40,490.52 L266.20,490.52" stroke="#222" stroke-width="1" fill="none"/>
<path d="M300.60,479.48 L300.60,490.66 M298.20,479.48 L303.00,479.48 M298.20,490.66 L303.00,490.66" stroke="#222" stroke-width="1" fill="none"/>
<path d="M79.80,315.23 L79.80,332.00 M77.40,315.23 L82.20,315.23 M77.40,332.00 L82.20,332.00" stroke="#707070" stroke-width="1" fill="none"/>
<path d="M116.60,334.38 L116.60,356.75 M114.20,334.38 L119.00,334.38 M114.20,356.75 L119.00,356.75" stroke="#707070" stroke-width="1" fill="none"/>
<path d="M153.40,385.12 L153.40,415.87 M151.00,385.12 L155.80,385.12 M151.00,415.87 L155.80,415.87" stroke="#707070" stroke-width="1" fill="none"/>
<path d="M190.20,462.70 L190.20,482.27 M187.80,462.70 L192.60,462.70 M187.80,482.27 L192.60,482.27" stroke="#707070" stroke-width="1" fill="none"/>
<path d="M227.00,478.92 L227.00,487.31 M224.60,478.92 L229.40,478.92 M224.60,487.31 L229.40,487.31" stroke="#707070" stroke-width="1" fill="none"/>
<path d="M263.80,481.57 L263.80,489.96 M261.40,481.57 L266.20,481.57 M261.40,489.96 L266.20,489.96" stroke="#707070" stroke-width="1" fill="none"/>
<path d="M300.60,482.27 L300.60,490.66 M298.20,482.27 L303.00,482.27 M298.20,490.66 L303.00,490.66" stroke="#707070" stroke-width="1" fill="none"/>
<path d="M79.80,310.34 L79.80,321.52 M77.40,310.34 L82.20,310.34 M77.40,321.52 L82.20,321.52" stroke="#707070" stroke-width="1" fill="none"/>
<path d="M116.60,321.10 L116.60,332.28 M114.20,321.10 L119.00,321.10 M114.20,332.28 L119.00,332.28" stroke="#707070" stroke-width="1" fill="none"/>
<path d="M153.40,347.10 L153.40,366.67 M151.00,347.10 L155.80,347.10 M151.00,366.67 L155.80,366.67" stroke="#707070" stroke-width="1" fill="none"/>
<path d="M190.20,407.21 L190.20,423.98 M187.80,407.21 L192.60,407.21 M187.80,423.98 L192.60,423.98" stroke="#707070" stroke-width="1" fill="none"/>
<path d="M227.00,434.75 L227.00,457.11 M224.60,434.75 L229.40,434.75 M224.60,457.11 L229.40,457.11" stroke="#707070" stroke-width="1" fill="none"/>
<path d="M263.80,460.19 L263.80,465.78 M261.40,460.19 L266.20,460.19 M261.40,465.78 L266.20,465.78" stroke="#707070" stroke-width="1" fill="none"/>
<path d="M300.60,481.43 L300.60,490.80 M298.20,481.43 L303.00,481.43 M298.20,490.80 L303.00,490.80" stroke="#707070" stroke-width="1" fill="none"/>
<path d="M79.80,320.96 L116.60,336.20 L153.40,396.72 L190.20,466.06 L227.00,486.61 L263.80,487.72 L300.60,485.07" fill="none" stroke="#000" stroke-width="2.2" stroke-linejoin="round"/>
<path d="M79.80,323.62 L116.60,345.56 L153.40,400.50 L190.20,472.49 L227.00,483.11 L263.80,485.77 L300.60,486.47" fill="none" stroke="#5c5c5c" stroke-width="2.2" stroke-linejoin="round"/>
<path d="M79.80,315.93 L116.60,326.69 L153.40,356.89 L190.20,415.60 L227.00,445.93 L263.80,462.98 L300.60,488.42" fill="none" stroke="#5c5c5c" stroke-width="2.2" stroke-linejoin="round"/>
<circle cx="79.80" cy="320.96" r="4.60" fill="#000"/>
<circle cx="116.60" cy="336.20" r="4.60" fill="#000"/>
<circle cx="153.40" cy="396.72" r="4.60" fill="#000"/>
<circle cx="190.20" cy="466.06" r="4.60" fill="#000"/>
<circle cx="227.00" cy="486.61" r="4.60" fill="#000"/>
<circle cx="263.80" cy="487.72" r="4.60" fill="#000"/>
<circle cx="300.60" cy="485.07" r="4.60" fill="#000"/>
<rect x="75.80" y="319.62" width="8.00" height="8.00" fill="#fff" stroke="#6a6a6a" stroke-width="1.1"/>
<rect x="112.60" y="341.56" width="8.00" height="8.00" fill="#fff" stroke="#6a6a6a" stroke-width="1.1"/>
<rect x="149.40" y="396.50" width="8.00" height="8.00" fill="#fff" stroke="#6a6a6a" stroke-width="1.1"/>
<rect x="186.20" y="468.49" width="8.00" height="8.00" fill="#fff" stroke="#6a6a6a" stroke-width="1.1"/>
<rect x="223.00" y="479.11" width="8.00" height="8.00" fill="#fff" stroke="#6a6a6a" stroke-width="1.1"/>
<rect x="259.80" y="481.77" width="8.00" height="8.00" fill="#fff" stroke="#6a6a6a" stroke-width="1.1"/>
<rect x="296.60" y="482.47" width="8.00" height="8.00" fill="#fff" stroke="#6a6a6a" stroke-width="1.1"/>
<path d="M79.80,310.63 L84.10,319.93 L75.50,319.93 Z" fill="#fff" stroke="#6a6a6a" stroke-width="1.1" stroke-linejoin="miter"/>
<path d="M116.60,321.39 L120.90,330.69 L112.30,330.69 Z" fill="#fff" stroke="#6a6a6a" stroke-width="1.1" stroke-linejoin="miter"/>
<path d="M153.40,351.59 L157.70,360.89 L149.10,360.89 Z" fill="#fff" stroke="#6a6a6a" stroke-width="1.1" stroke-linejoin="miter"/>
<path d="M190.20,410.30 L194.50,419.60 L185.90,419.60 Z" fill="#fff" stroke="#6a6a6a" stroke-width="1.1" stroke-linejoin="miter"/>
<path d="M227.00,440.63 L231.30,449.93 L222.70,449.93 Z" fill="#fff" stroke="#6a6a6a" stroke-width="1.1" stroke-linejoin="miter"/>
<path d="M263.80,457.68 L268.10,466.98 L259.50,466.98 Z" fill="#fff" stroke="#6a6a6a" stroke-width="1.1" stroke-linejoin="miter"/>
<path d="M300.60,483.12 L304.90,492.42 L296.30,492.42 Z" fill="#fff" stroke="#6a6a6a" stroke-width="1.1" stroke-linejoin="miter"/>
<line x1="227.7" y1="318.1" x2="244.8" y2="318.1" stroke="#000" stroke-width="2.2"/>
<circle cx="236.25" cy="318.10" r="4.37" fill="#000"/>
<text transform="translate(253.00,322.60) scale(1.03,1)" font-size="12" text-anchor="start" font-weight="bold" font-style="normal" fill="#000">Bln0360</text>
<line x1="227.7" y1="343" x2="244.8" y2="343" stroke="#5c5c5c" stroke-width="2.0"/>
<rect x="232.85" y="339.60" width="6.80" height="6.80" fill="#fff" stroke="#6a6a6a" stroke-width="1.1"/>
<text transform="translate(253.00,347.20) scale(1.03,1)" font-size="12" text-anchor="start" font-weight="bold" font-style="normal" fill="#000">Δ<tspan font-style="italic">cueA</tspan></text>
<line x1="227.7" y1="367.8" x2="244.8" y2="367.8" stroke="#5c5c5c" stroke-width="2.0"/>
<path d="M236.25,364.36 L239.69,371.80 L232.81,371.80 Z" fill="#fff" stroke="#6a6a6a" stroke-width="1.1" stroke-linejoin="miter"/>
<text transform="translate(253.00,371.80) scale(1.03,1)" font-size="12" text-anchor="start" font-weight="bold" font-style="normal" fill="#000">Δ<tspan font-style="italic">csoR</tspan></text>
<text transform="translate(143.3,535.6) scale(1.0,1)" font-size="16.2" font-weight="bold">CdSO<tspan font-size="10.8" dy="3">4</tspan><tspan dy="-3" dx="4.0">(mM)</tspan></text>
<text transform="translate(14.2,429.2) rotate(-90)" font-size="16.5" font-weight="bold">OD<tspan font-size="11" dy="3.2">600</tspan></text>
<text transform="translate(10.60,288.80) scale(1.0,1)" font-size="18" text-anchor="start" font-weight="bold" font-style="normal" fill="#000">C</text>
<text transform="translate(345.20,269.30) scale(1.0,1)" font-size="18" text-anchor="start" font-weight="bold" font-style="normal" fill="#000">D</text>
<g filter="url(#bl)">
<rect x="385.4" y="289.9" width="120.6" height="84.6" fill="url(#p1)"/>
<ellipse cx="399.1" cy="303.6" rx="9.7" ry="10.5" fill="url(#cg1)" opacity="1.0"/>
<ellipse cx="430.6" cy="303.6" rx="9.4" ry="10.2" fill="url(#cg2)" opacity="1.0"/>
<ellipse cx="461.7" cy="303.6" rx="9.4" ry="10.2" fill="url(#cg3)" opacity="1.0"/>
<ellipse cx="492.6" cy="303.6" rx="9.5" ry="10.3" fill="url(#cg4)" opacity="1.0"/>
<g fill="#a9ae9c" opacity="0.6"><circle cx="487.2" cy="305.4" r="0.75"/><circle cx="487.3" cy="304.9" r="0.63"/><circle cx="494.8" cy="309.0" r="0.65"/><circle cx="493.2" cy="301.2" r="0.53"/><circle cx="498.4" cy="307.6" r="0.67"/><circle cx="499.9" cy="305.7" r="0.77"/><circle cx="489.2" cy="298.3" r="0.48"/><circle cx="498.1" cy="304.2" r="0.44"/><circle cx="494.0" cy="307.4" r="0.43"/><circle cx="487.7" cy="304.8" r="0.72"/><circle cx="486.6" cy="302.8" r="0.60"/><circle cx="489.9" cy="298.8" r="0.52"/><circle cx="500.2" cy="303.5" r="0.72"/><circle cx="491.5" cy="299.1" r="0.50"/><circle cx="492.1" cy="305.7" r="0.70"/><circle cx="486.9" cy="308.0" r="0.56"/><circle cx="499.4" cy="301.6" r="0.42"/><circle cx="494.4" cy="311.2" r="0.59"/><circle cx="497.4" cy="303.0" r="0.45"/><circle cx="488.0" cy="298.3" r="0.52"/><circle cx="496.3" cy="306.1" r="0.77"/><circle cx="492.7" cy="300.8" r="0.51"/><circle cx="494.1" cy="304.8" r="0.71"/><circle cx="495.1" cy="309.1" r="0.58"/><circle cx="495.0" cy="310.2" r="0.47"/><circle cx="491.0" cy="301.4" r="0.57"/><circle cx="493.5" cy="307.8" r="0.77"/><circle cx="494.0" cy="299.3" r="0.74"/><circle cx="493.8" cy="308.6" r="0.73"/><circle cx="491.1" cy="301.6" r="0.78"/><circle cx="493.5" cy="307.7" r="0.70"/><circle cx="490.6" cy="307.5" r="0.45"/><circle cx="497.5" cy="307.0" r="0.51"/><circle cx="488.9" cy="300.6" r="0.58"/><circle cx="497.7" cy="302.1" r="0.63"/></g>
<ellipse cx="398.3" cy="332.1" rx="9.9" ry="10.6" fill="url(#cg5)" opacity="1.0"/>
<ellipse cx="429.3" cy="332.1" rx="9.4" ry="10.2" fill="url(#cg6)" opacity="1.0"/>
<ellipse cx="460.2" cy="332.1" rx="9.2" ry="10.0" fill="url(#cg7)" opacity="1.0"/>
<ellipse cx="491.4" cy="332.1" rx="9.3" ry="10.2" fill="url(#cg8)" opacity="1.0"/>
<g fill="#a9ae9c" opacity="0.6"><circle cx="493.5" cy="329.5" r="0.48"/><circle cx="497.0" cy="328.1" r="0.51"/><circle cx="493.8" cy="338.6" r="0.76"/><circle cx="493.8" cy="339.6" r="0.74"/><circle cx="487.6" cy="328.9" r="0.46"/><circle cx="498.5" cy="334.0" r="0.51"/><circle cx="490.3" cy="328.1" r="0.72"/><circle cx="488.1" cy="329.6" r="0.48"/><circle cx="491.0" cy="330.0" r="0.50"/><circle cx="485.0" cy="329.4" r="0.64"/><circle cx="490.1" cy="339.8" r="0.49"/><circle cx="495.2" cy="332.5" r="0.58"/><circle cx="494.3" cy="333.4" r="0.55"/><circle cx="489.0" cy="330.8" r="0.55"/><circle cx="497.1" cy="327.0" r="0.66"/><circle cx="489.3" cy="326.3" r="0.47"/><circle cx="492.4" cy="332.3" r="0.75"/><circle cx="489.2" cy="324.5" r="0.43"/><circle cx="488.0" cy="327.8" r="0.68"/><circle cx="488.3" cy="339.5" r="0.45"/><circle cx="485.3" cy="330.1" r="0.74"/><circle cx="490.9" cy="325.3" r="0.71"/><circle cx="495.2" cy="329.6" r="0.67"/><circle cx="497.0" cy="327.7" r="0.57"/><circle cx="493.1" cy="324.8" r="0.63"/><circle cx="488.1" cy="328.5" r="0.63"/><circle cx="489.8" cy="330.6" r="0.65"/><circle cx="498.4" cy="331.8" r="0.68"/><circle cx="486.5" cy="336.6" r="0.63"/><circle cx="485.1" cy="334.8" r="0.45"/><circle cx="491.4" cy="330.7" r="0.64"/><circle cx="487.9" cy="332.6" r="0.67"/><circle cx="485.6" cy="332.2" r="0.75"/><circle cx="491.4" cy="333.0" r="0.53"/><circle cx="489.9" cy="328.8" r="0.48"/></g>
<ellipse cx="399.5" cy="360.5" rx="10.0" ry="10.7" fill="url(#cg9)" opacity="1.0"/>
<ellipse cx="430.2" cy="360.5" rx="9.5" ry="10.3" fill="url(#cg10)" opacity="1.0"/>
<ellipse cx="460.4" cy="360.5" rx="9.4" ry="10.2" fill="url(#cg11)" opacity="1.0"/>
<ellipse cx="492.7" cy="360.5" rx="9.4" ry="10.2" fill="url(#cg12)" opacity="1.0"/>
<g fill="#a9ae9c" opacity="0.6"><circle cx="497.8" cy="356.8" r="0.58"/><circle cx="496.0" cy="357.6" r="0.66"/><circle cx="494.3" cy="365.6" r="0.71"/><circle cx="498.8" cy="356.6" r="0.56"/><circle cx="489.0" cy="358.2" r="0.47"/><circle cx="485.8" cy="360.7" r="0.73"/><circle cx="490.9" cy="352.8" r="0.52"/><circle cx="495.2" cy="365.3" r="0.52"/><circle cx="493.8" cy="365.6" r="0.65"/><circle cx="488.5" cy="360.7" r="0.72"/><circle cx="497.7" cy="359.9" r="0.45"/><circle cx="499.6" cy="362.0" r="0.43"/><circle cx="491.2" cy="354.5" r="0.53"/><circle cx="493.0" cy="359.4" r="0.47"/><circle cx="491.6" cy="360.9" r="0.72"/><circle cx="492.9" cy="363.6" r="0.44"/><circle cx="489.2" cy="356.5" r="0.65"/><circle cx="488.9" cy="354.4" r="0.77"/><circle cx="491.4" cy="357.2" r="0.59"/><circle cx="493.0" cy="361.3" r="0.59"/><circle cx="492.0" cy="357.1" r="0.52"/><circle cx="489.1" cy="366.1" r="0.61"/><circle cx="487.8" cy="355.8" r="0.56"/><circle cx="494.6" cy="353.0" r="0.45"/><circle cx="498.5" cy="357.7" r="0.47"/><circle cx="487.0" cy="362.4" r="0.75"/><circle cx="488.6" cy="364.8" r="0.74"/><circle cx="494.8" cy="352.9" r="0.59"/><circle cx="490.7" cy="357.5" r="0.68"/><circle cx="495.2" cy="354.6" r="0.68"/><circle cx="494.3" cy="368.0" r="0.77"/><circle cx="498.2" cy="359.7" r="0.70"/><circle cx="489.6" cy="367.5" r="0.73"/><circle cx="491.4" cy="362.4" r="0.58"/><circle cx="486.4" cy="358.3" r="0.60"/></g>
<rect x="531.4" y="290.1" width="121.8" height="85.0" fill="url(#p2)"/>
<ellipse cx="544.3" cy="329.0" rx="8.8" ry="10.6" fill="url(#cg13)" opacity="1.0"/>
<ellipse cx="576.5" cy="329.4" rx="8.4" ry="10.4" fill="url(#cg14)" opacity="1.0"/>
<ellipse cx="603.9" cy="329.2" rx="8.6" ry="10.0" fill="#a0ab96" opacity="0.7"/>
<ellipse cx="603.9" cy="329.2" rx="7.9" ry="9.3" fill="none" stroke="#bcc2a8" stroke-width="1.4" opacity="0.6"/>
<g fill="#d6dabe" opacity="0.9"><circle cx="611.0" cy="330.7" r="0.66"/><circle cx="604.9" cy="325.5" r="0.81"/><circle cx="604.6" cy="325.8" r="0.71"/><circle cx="597.1" cy="328.4" r="1.08"/><circle cx="601.0" cy="320.7" r="0.90"/><circle cx="606.1" cy="328.3" r="0.75"/><circle cx="599.7" cy="328.4" r="1.02"/><circle cx="600.2" cy="324.0" r="1.09"/><circle cx="599.7" cy="327.3" r="0.84"/><circle cx="608.2" cy="321.8" r="0.74"/><circle cx="608.6" cy="321.7" r="0.91"/><circle cx="600.7" cy="327.3" r="0.92"/><circle cx="597.7" cy="329.1" r="0.64"/><circle cx="609.5" cy="327.9" r="0.85"/><circle cx="605.8" cy="322.5" r="0.90"/><circle cx="603.2" cy="327.0" r="0.92"/><circle cx="597.2" cy="333.9" r="1.13"/><circle cx="603.2" cy="335.6" r="0.70"/><circle cx="597.3" cy="332.6" r="1.12"/><circle cx="599.4" cy="330.0" r="0.73"/><circle cx="598.2" cy="323.1" r="0.70"/><circle cx="604.1" cy="327.8" r="0.73"/><circle cx="604.8" cy="336.9" r="0.80"/><circle cx="600.0" cy="335.0" r="0.69"/><circle cx="603.6" cy="325.9" r="0.91"/><circle cx="603.9" cy="333.4" r="0.92"/><circle cx="599.4" cy="331.4" r="0.85"/><circle cx="600.8" cy="328.5" r="0.74"/><circle cx="599.6" cy="323.7" r="0.92"/><circle cx="607.6" cy="323.3" r="1.09"/><circle cx="604.6" cy="337.2" r="1.07"/><circle cx="607.6" cy="326.2" r="0.80"/><circle cx="607.2" cy="327.2" r="1.17"/><circle cx="606.1" cy="327.0" r="0.76"/><circle cx="603.3" cy="324.5" r="0.68"/><circle cx="606.5" cy="323.9" r="1.06"/><circle cx="607.5" cy="333.4" r="1.00"/><circle cx="607.5" cy="329.7" r="1.00"/><circle cx="610.6" cy="324.3" r="0.69"/><circle cx="596.9" cy="328.9" r="0.90"/><circle cx="602.5" cy="325.4" r="0.67"/><circle cx="605.1" cy="330.3" r="0.93"/><circle cx="597.9" cy="328.5" r="0.71"/><circle cx="605.3" cy="333.1" r="1.08"/><circle cx="611.6" cy="328.6" r="0.68"/><circle cx="611.1" cy="332.7" r="0.88"/><circle cx="604.3" cy="323.8" r="0.88"/><circle cx="598.7" cy="328.6" r="0.95"/><circle cx="610.6" cy="329.9" r="1.09"/><circle cx="606.2" cy="335.0" r="1.03"/><circle cx="601.0" cy="331.5" r="0.72"/><circle cx="602.9" cy="329.1" r="1.11"/><circle cx="606.0" cy="321.7" r="1.09"/><circle cx="600.4" cy="324.9" r="0.95"/><circle cx="596.0" cy="328.9" r="1.06"/><circle cx="603.5" cy="338.2" r="1.03"/><circle cx="605.2" cy="320.8" r="0.85"/><circle cx="609.9" cy="323.9" r="1.01"/><circle cx="604.7" cy="321.0" r="0.85"/><circle cx="603.5" cy="326.7" r="0.81"/></g>
<g fill="#dfe2c4" opacity="1.0"><circle cx="629.5" cy="330.9" r="1.00"/><circle cx="630.6" cy="322.9" r="0.92"/><circle cx="641.5" cy="326.5" r="0.99"/><circle cx="631.4" cy="322.3" r="1.12"/><circle cx="629.2" cy="335.6" r="1.19"/><circle cx="632.9" cy="321.0" r="1.42"/><circle cx="641.7" cy="330.7" r="1.26"/><circle cx="634.7" cy="337.6" r="0.80"/><circle cx="637.1" cy="337.1" r="0.83"/><circle cx="635.0" cy="338.8" r="1.13"/><circle cx="627.6" cy="329.0" r="1.14"/><circle cx="641.8" cy="329.2" r="1.30"/></g>
<g fill="#dfe2c4" opacity="1.0"><circle cx="639.1" cy="332.2" r="1.27"/><circle cx="640.6" cy="331.5" r="0.88"/><circle cx="632.6" cy="330.0" r="1.10"/><circle cx="633.9" cy="328.3" r="1.39"/><circle cx="631.2" cy="332.1" r="1.16"/><circle cx="632.9" cy="332.5" r="1.20"/><circle cx="632.0" cy="328.0" r="1.24"/><circle cx="634.8" cy="330.4" r="0.93"/></g>
<circle cx="608.8" cy="315.8" r="1.2" fill="#dfe2cc"/><circle cx="646.9" cy="320" r="0.9" fill="#d0d4c0"/><circle cx="601" cy="299" r="1.1" fill="#e0e3d0"/>
<ellipse cx="545.9" cy="357.4" rx="8.6" ry="10.2" fill="#8f9c8c" opacity="0.7"/>
<ellipse cx="545.9" cy="357.4" rx="8.0" ry="9.6" fill="none" stroke="#a6ae9a" stroke-width="1.2" opacity="0.6"/>
<g fill="#bcc3aa" opacity="0.85"><circle cx="549.0" cy="358.4" r="0.86"/><circle cx="539.9" cy="363.3" r="0.86"/><circle cx="553.7" cy="360.4" r="0.95"/><circle cx="552.9" cy="361.6" r="0.72"/><circle cx="537.9" cy="358.8" r="0.63"/><circle cx="538.0" cy="356.0" r="0.85"/><circle cx="537.9" cy="359.3" r="0.89"/><circle cx="543.7" cy="355.4" r="0.81"/><circle cx="542.3" cy="358.6" r="0.55"/><circle cx="543.1" cy="356.8" r="0.72"/><circle cx="543.2" cy="351.6" r="0.64"/><circle cx="541.3" cy="354.3" r="0.88"/><circle cx="537.9" cy="355.5" r="0.95"/><circle cx="545.5" cy="352.6" r="0.58"/><circle cx="551.6" cy="352.0" r="0.81"/><circle cx="543.2" cy="361.4" r="0.83"/><circle cx="540.1" cy="354.4" r="0.81"/><circle cx="546.0" cy="353.1" r="0.64"/><circle cx="553.7" cy="356.2" r="0.92"/><circle cx="547.9" cy="358.0" r="0.65"/><circle cx="540.1" cy="360.9" r="0.57"/><circle cx="543.8" cy="356.7" r="0.56"/><circle cx="543.2" cy="350.9" r="0.81"/><circle cx="541.9" cy="362.2" r="0.62"/><circle cx="542.0" cy="364.4" r="0.90"/><circle cx="548.4" cy="358.9" r="0.89"/><circle cx="540.8" cy="351.4" r="0.62"/><circle cx="542.2" cy="359.7" r="0.89"/><circle cx="541.4" cy="363.2" r="0.97"/><circle cx="543.1" cy="363.9" r="0.86"/><circle cx="550.6" cy="354.3" r="0.69"/><circle cx="552.2" cy="362.6" r="0.56"/><circle cx="551.2" cy="361.1" r="0.74"/><circle cx="544.1" cy="352.5" r="0.87"/><circle cx="549.3" cy="359.5" r="0.82"/><circle cx="549.8" cy="360.1" r="0.85"/><circle cx="544.4" cy="352.5" r="0.59"/><circle cx="541.5" cy="363.9" r="0.69"/><circle cx="551.0" cy="363.0" r="0.78"/><circle cx="552.8" cy="352.7" r="0.94"/><circle cx="539.1" cy="360.7" r="0.66"/><circle cx="543.8" cy="363.0" r="0.95"/><circle cx="549.1" cy="354.4" r="0.69"/><circle cx="542.6" cy="361.8" r="0.70"/><circle cx="543.1" cy="360.2" r="0.78"/></g>
<ellipse cx="577.6" cy="357.4" rx="8.4" ry="10.0" fill="#86968a" opacity="0.4"/>
<ellipse cx="577.6" cy="357.4" rx="7.8" ry="9.4" fill="none" stroke="#9aa694" stroke-width="1.2" opacity="0.4"/>
<g fill="#b0b9a2" opacity="0.8"><circle cx="579.4" cy="350.5" r="0.84"/><circle cx="574.4" cy="355.8" r="0.81"/><circle cx="580.8" cy="353.9" r="0.50"/><circle cx="571.6" cy="356.7" r="0.73"/><circle cx="584.1" cy="355.7" r="0.83"/><circle cx="583.2" cy="360.2" r="0.82"/><circle cx="579.6" cy="358.8" r="0.80"/><circle cx="579.5" cy="355.7" r="0.76"/><circle cx="582.0" cy="364.1" r="0.76"/><circle cx="577.7" cy="362.0" r="0.81"/><circle cx="570.5" cy="356.2" r="0.66"/><circle cx="573.4" cy="365.6" r="0.77"/><circle cx="571.6" cy="357.7" r="0.79"/><circle cx="575.6" cy="348.3" r="0.66"/><circle cx="580.7" cy="350.3" r="0.85"/><circle cx="580.2" cy="349.0" r="0.86"/><circle cx="583.9" cy="355.3" r="0.71"/><circle cx="575.8" cy="348.9" r="0.67"/><circle cx="574.8" cy="359.2" r="0.80"/><circle cx="582.6" cy="357.1" r="0.56"/><circle cx="579.1" cy="363.5" r="0.61"/><circle cx="579.6" cy="356.9" r="0.62"/><circle cx="582.6" cy="362.6" r="0.82"/><circle cx="578.5" cy="359.6" r="0.68"/><circle cx="570.8" cy="352.7" r="0.51"/><circle cx="580.3" cy="360.1" r="0.58"/></g>
<circle cx="605.2" cy="356.2" r="1.5" fill="#9aa896" opacity="0.8"/><circle cx="631.5" cy="356.7" r="1.2" fill="#9aa896" opacity="0.8"/>
<rect x="383.5" y="411.3" width="121.1" height="84.4" fill="url(#p3)"/>
<ellipse cx="398.3" cy="424.8" rx="8.0" ry="8.6" fill="#86948a" opacity="0.5"/>
<ellipse cx="398.3" cy="424.8" rx="7.2" ry="7.8" fill="none" stroke="#96a290" stroke-width="1.5" opacity="0.7"/>
<ellipse cx="427.9" cy="424.8" rx="7.8" ry="8.1" fill="none" stroke="#909c8c" stroke-width="1.4" opacity="0.6"/>
<ellipse cx="401.0" cy="454.9" rx="8.3" ry="9.6" fill="url(#cg15)" opacity="1.0"/>
<ellipse cx="431.5" cy="454.9" rx="8.5" ry="9.6" fill="url(#cg16)" opacity="1.0"/>
<ellipse cx="461.5" cy="454.9" rx="8.6" ry="9.6" fill="#949c8a" opacity="0.6"/>
<ellipse cx="461.5" cy="454.9" rx="7.8" ry="8.8" fill="none" stroke="#c2c6a8" stroke-width="1.5" opacity="0.85"/>
<g fill="#bfc4a8" opacity="0.85"><circle cx="462.1" cy="462.1" r="0.79"/><circle cx="462.0" cy="458.5" r="0.65"/><circle cx="464.6" cy="461.4" r="0.67"/><circle cx="455.0" cy="452.6" r="0.74"/><circle cx="461.0" cy="462.9" r="0.94"/><circle cx="458.5" cy="460.2" r="0.96"/><circle cx="458.0" cy="455.3" r="0.55"/><circle cx="467.9" cy="452.4" r="0.70"/><circle cx="456.2" cy="453.8" r="0.65"/><circle cx="467.6" cy="454.5" r="0.63"/><circle cx="466.6" cy="455.3" r="0.69"/><circle cx="463.3" cy="448.0" r="0.80"/><circle cx="463.1" cy="457.7" r="0.67"/><circle cx="461.1" cy="462.8" r="0.76"/><circle cx="456.6" cy="448.5" r="0.64"/><circle cx="458.7" cy="454.2" r="0.87"/><circle cx="468.3" cy="455.0" r="0.91"/><circle cx="462.4" cy="452.7" r="0.65"/><circle cx="461.0" cy="452.3" r="0.74"/><circle cx="454.3" cy="456.5" r="0.79"/><circle cx="464.1" cy="451.2" r="0.88"/><circle cx="455.3" cy="459.0" r="0.57"/><circle cx="463.1" cy="451.5" r="0.77"/><circle cx="458.6" cy="454.4" r="0.90"/><circle cx="459.9" cy="459.3" r="0.56"/><circle cx="459.7" cy="460.4" r="0.85"/><circle cx="457.5" cy="460.3" r="0.57"/><circle cx="457.5" cy="458.5" r="0.96"/><circle cx="464.4" cy="448.9" r="0.53"/><circle cx="457.0" cy="459.9" r="0.63"/><circle cx="456.8" cy="452.6" r="0.53"/><circle cx="468.2" cy="454.5" r="0.62"/><circle cx="458.5" cy="451.8" r="0.69"/><circle cx="457.5" cy="453.8" r="0.68"/><circle cx="456.7" cy="459.2" r="0.64"/></g>
<g fill="#cfd3b6" opacity="0.95"><circle cx="492.5" cy="463.1" r="0.76"/><circle cx="497.0" cy="452.1" r="0.96"/><circle cx="486.2" cy="462.6" r="0.64"/><circle cx="494.1" cy="460.4" r="0.94"/><circle cx="488.4" cy="447.8" r="0.80"/><circle cx="493.9" cy="447.8" r="0.64"/><circle cx="491.0" cy="462.1" r="0.66"/><circle cx="484.8" cy="458.8" r="1.06"/><circle cx="483.6" cy="458.5" r="0.93"/><circle cx="490.9" cy="446.2" r="0.79"/><circle cx="486.7" cy="461.7" r="0.60"/><circle cx="483.9" cy="459.9" r="1.10"/><circle cx="492.0" cy="446.7" r="0.91"/><circle cx="496.9" cy="455.8" r="0.77"/><circle cx="486.4" cy="449.1" r="0.79"/><circle cx="482.3" cy="454.4" r="1.02"/></g>
<g fill="#cfd3b6" opacity="0.9"><circle cx="488.3" cy="453.1" r="0.99"/><circle cx="493.7" cy="451.9" r="0.77"/><circle cx="487.8" cy="454.9" r="0.96"/><circle cx="494.4" cy="454.5" r="0.96"/><circle cx="491.5" cy="452.2" r="1.08"/><circle cx="488.2" cy="452.7" r="0.64"/><circle cx="490.3" cy="460.2" r="0.95"/><circle cx="487.3" cy="460.8" r="0.78"/></g>
<ellipse cx="399.1" cy="480.9" rx="8.2" ry="8.6" fill="#84928a" opacity="0.3"/>
<ellipse cx="399.1" cy="480.9" rx="7.5" ry="7.9" fill="none" stroke="#909c8c" stroke-width="1.4" opacity="0.6"/>
<ellipse cx="429.0" cy="480.9" rx="7.2" ry="7.6" fill="none" stroke="#889689" stroke-width="1.2" opacity="0.4"/>
<rect x="531.2" y="410.9" width="121.7" height="84.6" fill="url(#p4)"/>
<ellipse cx="545.1" cy="425.8" rx="8.2" ry="8.6" fill="#9aa08e" opacity="0.7"/>
<ellipse cx="545.1" cy="425.8" rx="7.5" ry="7.9" fill="none" stroke="#a8ae98" stroke-width="1.4" opacity="0.7"/>
<g fill="#aab09a" opacity="0.6"><circle cx="542.6" cy="426.4" r="0.90"/><circle cx="549.7" cy="431.4" r="0.72"/><circle cx="540.0" cy="423.6" r="0.60"/><circle cx="551.3" cy="421.6" r="0.83"/><circle cx="543.0" cy="424.2" r="0.84"/><circle cx="543.4" cy="433.0" r="0.59"/><circle cx="539.1" cy="422.6" r="0.57"/><circle cx="543.1" cy="425.2" r="0.50"/><circle cx="548.2" cy="432.8" r="0.88"/><circle cx="542.9" cy="422.2" r="0.77"/><circle cx="544.7" cy="421.0" r="0.74"/><circle cx="545.4" cy="424.9" r="0.57"/><circle cx="542.4" cy="426.4" r="0.65"/><circle cx="542.3" cy="424.4" r="0.71"/><circle cx="544.6" cy="431.7" r="0.63"/><circle cx="544.2" cy="424.6" r="0.77"/><circle cx="549.6" cy="431.8" r="0.74"/><circle cx="540.4" cy="426.7" r="0.75"/><circle cx="542.7" cy="419.5" r="0.81"/><circle cx="537.7" cy="426.5" r="0.84"/><circle cx="548.0" cy="421.9" r="0.67"/><circle cx="538.7" cy="422.8" r="0.71"/><circle cx="540.3" cy="425.0" r="0.87"/><circle cx="544.4" cy="427.4" r="0.79"/><circle cx="550.2" cy="421.9" r="0.74"/></g>
<ellipse cx="572.3" cy="425.8" rx="8.2" ry="8.6" fill="#8e988a" opacity="0.4"/>
<ellipse cx="572.3" cy="425.8" rx="7.5" ry="7.9" fill="none" stroke="#9ea692" stroke-width="1.3" opacity="0.6"/>
<ellipse cx="601.6" cy="425.8" rx="6.9" ry="7.4" fill="none" stroke="#949e8e" stroke-width="1.2" opacity="0.35"/>
<ellipse cx="544.0" cy="454.8" rx="8.3" ry="9.3" fill="url(#cg17)" opacity="1.0"/>
<ellipse cx="574.1" cy="454.8" rx="8.4" ry="9.3" fill="url(#cg18)" opacity="1.0"/>
<g fill="#d2d4b6" opacity="0.6"><circle cx="574.1" cy="450.2" r="0.74"/><circle cx="576.5" cy="456.1" r="0.68"/><circle cx="569.3" cy="454.7" r="0.51"/><circle cx="572.2" cy="449.1" r="0.59"/><circle cx="572.4" cy="459.8" r="0.59"/><circle cx="580.7" cy="458.1" r="0.90"/><circle cx="570.5" cy="448.1" r="0.67"/><circle cx="575.3" cy="451.1" r="0.80"/><circle cx="567.5" cy="451.5" r="0.53"/><circle cx="574.8" cy="451.9" r="0.72"/><circle cx="574.3" cy="454.7" r="0.59"/><circle cx="572.8" cy="459.4" r="0.52"/><circle cx="579.5" cy="450.2" r="0.66"/><circle cx="570.5" cy="459.8" r="0.51"/><circle cx="581.2" cy="456.3" r="0.62"/><circle cx="566.8" cy="454.9" r="0.90"/><circle cx="570.7" cy="455.5" r="0.61"/><circle cx="580.5" cy="451.1" r="0.57"/><circle cx="576.5" cy="450.5" r="0.69"/><circle cx="577.5" cy="461.7" r="0.91"/><circle cx="575.9" cy="461.2" r="0.57"/><circle cx="575.3" cy="453.5" r="0.53"/><circle cx="573.5" cy="450.2" r="0.87"/><circle cx="578.5" cy="449.6" r="0.55"/><circle cx="571.6" cy="447.1" r="0.68"/><circle cx="577.3" cy="456.7" r="0.62"/><circle cx="573.3" cy="451.2" r="0.57"/><circle cx="574.7" cy="461.6" r="0.82"/><circle cx="569.8" cy="459.7" r="0.86"/><circle cx="571.0" cy="452.6" r="0.62"/></g>
<ellipse cx="603.0" cy="454.8" rx="8.2" ry="9.0" fill="#a6ae98" opacity="0.5"/>
<ellipse cx="603.0" cy="454.8" rx="7.6" ry="8.4" fill="none" stroke="#c8ccb0" stroke-width="1.2" opacity="0.4"/>
<g fill="#e0e2c8" opacity="0.95"><circle cx="608.7" cy="451.7" r="0.87"/><circle cx="601.5" cy="452.8" r="1.29"/><circle cx="597.7" cy="457.1" r="1.02"/><circle cx="608.8" cy="456.7" r="0.87"/><circle cx="603.0" cy="462.5" r="0.75"/><circle cx="601.5" cy="462.1" r="0.85"/><circle cx="601.9" cy="461.1" r="0.81"/><circle cx="609.2" cy="449.6" r="0.72"/><circle cx="596.4" cy="456.6" r="0.93"/><circle cx="608.0" cy="452.2" r="0.81"/><circle cx="597.1" cy="452.4" r="0.92"/><circle cx="599.2" cy="448.4" r="1.01"/><circle cx="595.8" cy="454.5" r="1.11"/><circle cx="595.5" cy="453.7" r="0.80"/><circle cx="603.6" cy="451.4" r="1.06"/><circle cx="603.5" cy="460.5" r="1.16"/><circle cx="604.6" cy="447.4" r="0.84"/><circle cx="599.3" cy="455.1" r="1.05"/><circle cx="601.5" cy="454.8" r="1.06"/><circle cx="601.7" cy="448.5" r="1.22"/><circle cx="604.3" cy="457.8" r="0.71"/><circle cx="597.9" cy="454.9" r="0.97"/><circle cx="602.4" cy="462.5" r="0.74"/><circle cx="607.9" cy="451.2" r="1.03"/><circle cx="604.0" cy="450.7" r="0.79"/><circle cx="602.4" cy="456.4" r="0.89"/><circle cx="598.9" cy="450.5" r="0.86"/><circle cx="601.0" cy="453.4" r="1.19"/><circle cx="604.9" cy="458.6" r="0.80"/><circle cx="600.4" cy="447.5" r="1.17"/><circle cx="607.6" cy="456.9" r="0.92"/><circle cx="604.6" cy="463.1" r="0.73"/><circle cx="596.2" cy="455.3" r="1.29"/><circle cx="606.2" cy="459.4" r="1.15"/><circle cx="606.7" cy="455.8" r="1.23"/><circle cx="606.1" cy="459.0" r="0.88"/><circle cx="601.1" cy="455.9" r="0.72"/><circle cx="609.8" cy="454.6" r="1.14"/><circle cx="603.5" cy="459.1" r="1.03"/><circle cx="603.3" cy="460.6" r="1.26"/></g>
<g fill="#dfe2c8" opacity="0.95"><circle cx="630.8" cy="458.5" r="1.42"/><circle cx="632.8" cy="453.7" r="1.04"/><circle cx="632.9" cy="453.1" r="1.00"/><circle cx="631.3" cy="447.4" r="1.16"/><circle cx="638.8" cy="451.0" r="1.03"/><circle cx="637.3" cy="450.4" r="1.29"/><circle cx="635.3" cy="459.7" r="0.89"/><circle cx="630.7" cy="453.7" r="0.90"/><circle cx="635.6" cy="460.5" r="0.97"/><circle cx="625.7" cy="457.6" r="1.22"/></g>
<ellipse cx="543.3" cy="481.9" rx="8.2" ry="8.6" fill="#8e988a" opacity="0.4"/>
<ellipse cx="543.3" cy="481.9" rx="7.5" ry="7.9" fill="none" stroke="#9aa292" stroke-width="1.3" opacity="0.5"/>
</g>
<text transform="translate(448.80,286.00) scale(1.0,1)" font-size="12.4" text-anchor="middle" font-weight="bold" font-style="normal" fill="#000">Control</text>
<text transform="translate(592.80,285.80) scale(1.0,1)" font-size="12" text-anchor="middle" font-weight="bold" font-style="normal" fill="#000">2.0 mM CuSO<tspan font-size="8.5" dy="2.5">4</tspan></text>
<text transform="translate(443.50,407.00) scale(1.0,1)" font-size="12" text-anchor="middle" font-weight="bold" font-style="normal" fill="#000">2.8 mM ZnSO<tspan font-size="8.5" dy="2.5">4</tspan></text>
<text transform="translate(592.80,407.00) scale(1.0,1)" font-size="12" text-anchor="middle" font-weight="bold" font-style="normal" fill="#000">0.1 mM CdSO<tspan font-size="8.5" dy="2.5">4</tspan></text>
<text transform="translate(330.80,309.00) scale(1.06,1)" font-size="12.4" text-anchor="start" font-weight="bold" font-style="normal" fill="#000">Bln0360</text>
<text transform="translate(330.80,340.70) scale(1.06,1)" font-size="12.4" text-anchor="start" font-weight="bold" font-style="normal" fill="#000">Δ<tspan font-style="italic">csoR</tspan></text>
<text transform="translate(330.80,372.60) scale(1.06,1)" font-size="12.4" text-anchor="start" font-weight="bold" font-style="normal" fill="#000">Δ<tspan font-style="italic">cueA</tspan></text>
<text transform="translate(330.80,427.10) scale(1.06,1)" font-size="12.4" text-anchor="start" font-weight="bold" font-style="normal" fill="#000">Bln0360</text>
<text transform="translate(330.80,459.40) scale(1.06,1)" font-size="12.4" text-anchor="start" font-weight="bold" font-style="normal" fill="#000">Δ<tspan font-style="italic">csoR</tspan></text>
<text transform="translate(330.80,491.00) scale(1.06,1)" font-size="12.4" text-anchor="start" font-weight="bold" font-style="normal" fill="#000">Δ<tspan font-style="italic">cueA</tspan></text>
<text transform="translate(401.40,386.80) scale(1.05,1)" font-size="10.3" text-anchor="middle" font-weight="bold" font-style="normal" fill="#000">10<tspan font-size="7.2" dy="-3.6">-1</tspan></text>
<text transform="translate(432.00,386.80) scale(1.05,1)" font-size="10.3" text-anchor="middle" font-weight="bold" font-style="normal" fill="#000">10<tspan font-size="7.2" dy="-3.6">-2</tspan></text>
<text transform="translate(462.70,386.80) scale(1.05,1)" font-size="10.3" text-anchor="middle" font-weight="bold" font-style="normal" fill="#000">10<tspan font-size="7.2" dy="-3.6">-3</tspan></text>
<text transform="translate(493.30,386.80) scale(1.05,1)" font-size="10.3" text-anchor="middle" font-weight="bold" font-style="normal" fill="#000">10<tspan font-size="7.2" dy="-3.6">-4</tspan></text>
<text transform="translate(546.90,386.80) scale(1.05,1)" font-size="10.3" text-anchor="middle" font-weight="bold" font-style="normal" fill="#000">10<tspan font-size="7.2" dy="-3.6">-1</tspan></text>
<text transform="translate(580.80,386.80) scale(1.05,1)" font-size="10.3" text-anchor="middle" font-weight="bold" font-style="normal" fill="#000">10<tspan font-size="7.2" dy="-3.6">-2</tspan></text>
<text transform="translate(608.40,386.80) scale(1.05,1)" font-size="10.3" text-anchor="middle" font-weight="bold" font-style="normal" fill="#000">10<tspan font-size="7.2" dy="-3.6">-3</tspan></text>
<text transform="translate(639.10,386.80) scale(1.05,1)" font-size="10.3" text-anchor="middle" font-weight="bold" font-style="normal" fill="#000">10<tspan font-size="7.2" dy="-3.6">-4</tspan></text>
<text transform="translate(398.60,508.60) scale(1.05,1)" font-size="10.3" text-anchor="middle" font-weight="bold" font-style="normal" fill="#000">10<tspan font-size="7.2" dy="-3.6">-1</tspan></text>
<text transform="translate(432.00,508.60) scale(1.05,1)" font-size="10.3" text-anchor="middle" font-weight="bold" font-style="normal" fill="#000">10<tspan font-size="7.2" dy="-3.6">-2</tspan></text>
<text transform="translate(466.00,508.60) scale(1.05,1)" font-size="10.3" text-anchor="middle" font-weight="bold" font-style="normal" fill="#000">10<tspan font-size="7.2" dy="-3.6">-3</tspan></text>
<text transform="translate(493.80,508.60) scale(1.05,1)" font-size="10.3" text-anchor="middle" font-weight="bold" font-style="normal" fill="#000">10<tspan font-size="7.2" dy="-3.6">-4</tspan></text>
<text transform="translate(546.60,508.40) scale(1.05,1)" font-size="10.3" text-anchor="middle" font-weight="bold" font-style="normal" fill="#000">10<tspan font-size="7.2" dy="-3.6">-1</tspan></text>
<text transform="translate(577.00,508.40) scale(1.05,1)" font-size="10.3" text-anchor="middle" font-weight="bold" font-style="normal" fill="#000">10<tspan font-size="7.2" dy="-3.6">-2</tspan></text>
<text transform="translate(607.70,508.40) scale(1.05,1)" font-size="10.3" text-anchor="middle" font-weight="bold" font-style="normal" fill="#000">10<tspan font-size="7.2" dy="-3.6">-3</tspan></text>
<text transform="translate(638.90,508.40) scale(1.05,1)" font-size="10.3" text-anchor="middle" font-weight="bold" font-style="normal" fill="#000">10<tspan font-size="7.2" dy="-3.6">-4</tspan></text>
<text transform="translate(658.50,305.00) scale(1.0,1)" font-size="13" text-anchor="start" font-weight="bold" font-style="normal" fill="#000">0.8</text>
<text transform="translate(658.50,337.00) scale(1.0,1)" font-size="13" text-anchor="start" font-weight="bold" font-style="normal" fill="#000">2.4</text>
<text transform="translate(658.50,369.00) scale(1.0,1)" font-size="13" text-anchor="start" font-weight="bold" font-style="normal" fill="#000">2.0</text>
<text transform="translate(506.00,427.30) scale(1.0,1)" font-size="13" text-anchor="start" font-weight="bold" font-style="normal" fill="#000">3.2</text>
<text transform="translate(506.00,459.40) scale(1.0,1)" font-size="13" text-anchor="start" font-weight="bold" font-style="normal" fill="#000">4.0</text>
<text transform="translate(506.00,490.20) scale(1.0,1)" font-size="13" text-anchor="start" font-weight="bold" font-style="normal" fill="#000">3.2</text>
<text transform="translate(657.30,427.60) scale(1.0,1)" font-size="13" text-anchor="start" font-weight="bold" font-style="normal" fill="#000">0.15</text>
<text transform="translate(657.30,459.70) scale(1.0,1)" font-size="13" text-anchor="start" font-weight="bold" font-style="normal" fill="#000">0.25</text>
<text transform="translate(657.30,491.30) scale(1.0,1)" font-size="13" text-anchor="start" font-weight="bold" font-style="normal" fill="#000">0.15</text></g></svg>
</body></html>
